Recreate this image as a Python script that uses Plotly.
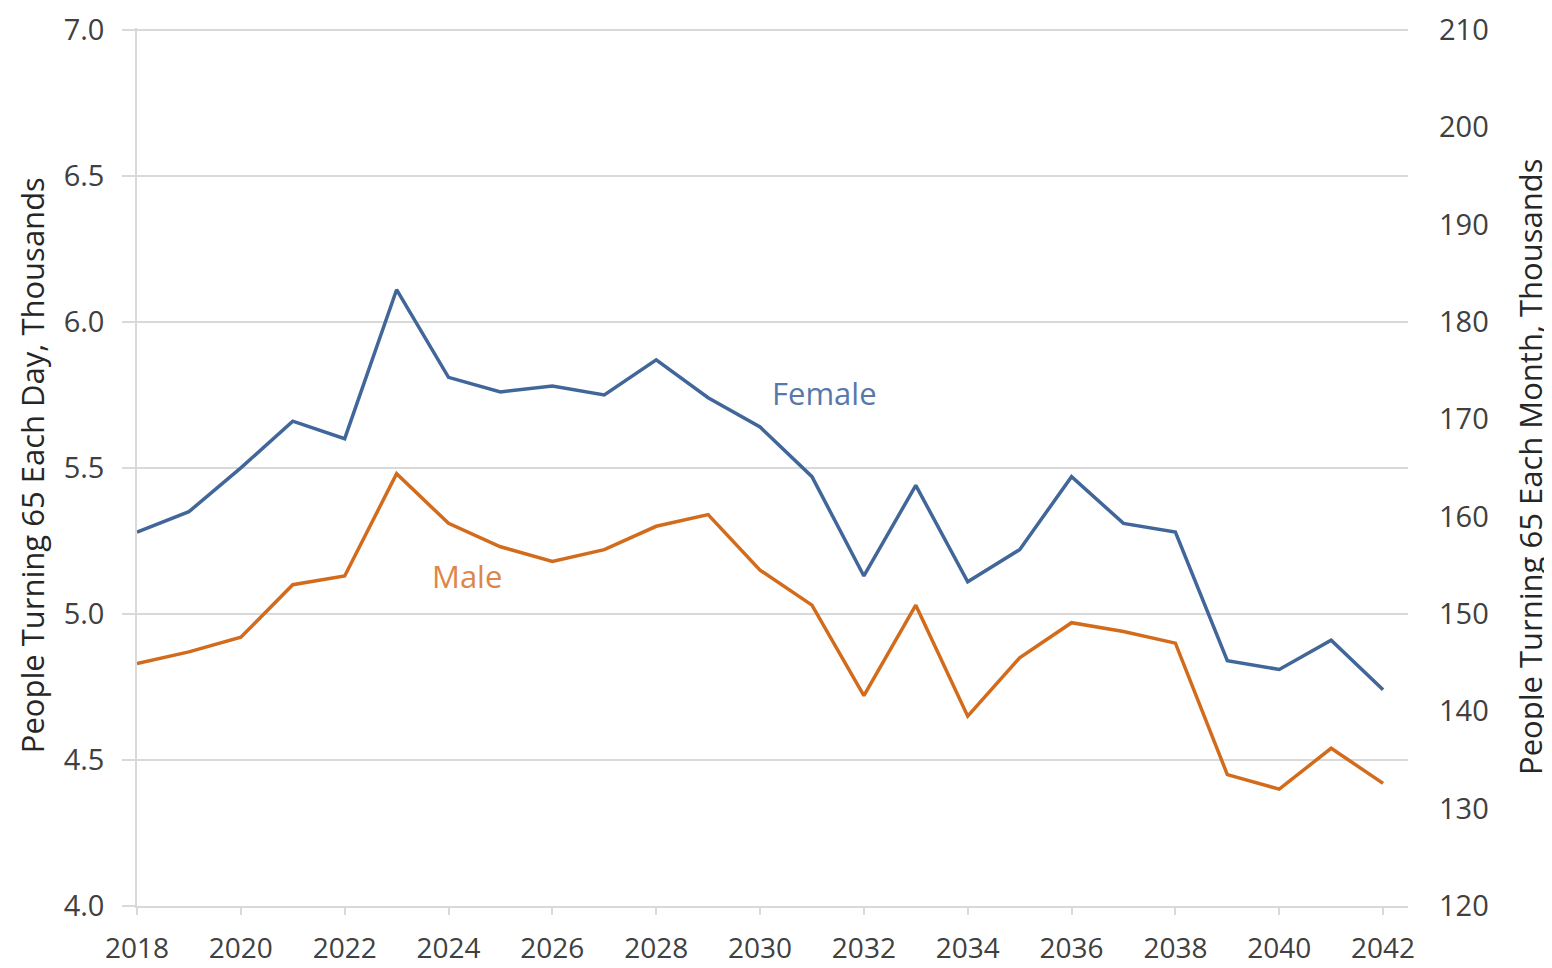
import plotly.graph_objects as go

years = list(range(2018, 2043))
female = [5.28, 5.35, 5.50, 5.66, 5.60, 6.11, 5.81, 5.76, 5.78, 5.75, 5.87, 5.74, 5.64,
          5.47, 5.13, 5.44, 5.11, 5.22, 5.47, 5.31, 5.28, 4.84, 4.81, 4.91, 4.74]
male = [4.83, 4.87, 4.92, 5.10, 5.13, 5.48, 5.31, 5.23, 5.18, 5.22, 5.30, 5.34, 5.15,
        5.03, 4.72, 5.03, 4.65, 4.85, 4.97, 4.94, 4.90, 4.45, 4.40, 4.54, 4.42]

left_title = "People Turning 65 Each Day, Thousands"
right_title = "People Turning 65 Each Month, Thousands"

FONT = "'Open Sans', Lato, sans-serif"
GRID = "#d9d9d9"
TXT = "#404040"

fig = go.Figure()
fig.add_trace(go.Scatter(x=years, y=female, mode="lines", name="Female",
                         line=dict(color="#41669a", width=3.5), showlegend=False))
fig.add_trace(go.Scatter(x=years, y=male, mode="lines", name="Male",
                         line=dict(color="#d26c1c", width=3.5), showlegend=False))
# empty trace so the secondary (monthly) axis is drawn
fig.add_trace(go.Scatter(x=[], y=[], yaxis="y2", showlegend=False, hoverinfo="skip"))

fig.add_annotation(x=2031.25, y=5.755, text="Female", showarrow=False,
                   font=dict(family=FONT, size=31, color="#5878ab"))
fig.add_annotation(x=2024.36, y=5.13, text="Male", showarrow=False,
                   font=dict(family=FONT, size=31, color="#dc8648"))

fig.add_annotation(xref="paper", yref="paper", x=-0.0826, y=0.502, text=left_title,
                   textangle=-90, showarrow=False, xanchor="center", yanchor="middle",
                   font=dict(family=FONT, size=31, color="#262626"))
fig.add_annotation(xref="paper", yref="paper", x=1.096, y=0.5, text=right_title,
                   textangle=-90, showarrow=False, xanchor="center", yanchor="middle",
                   font=dict(family=FONT, size=31, color="#262626"))

fig.update_layout(
    width=1544, height=960,
    margin=dict(l=129, r=144, t=20, b=62, autoexpand=False),
    paper_bgcolor="white", plot_bgcolor="white",
    font=dict(family=FONT, size=29, color=TXT),
    xaxis=dict(range=[2018, 2042.48], tick0=2018, dtick=2, showgrid=False,
               showline=True, linecolor=GRID, linewidth=1.5,
               ticks="outside", ticklen=7, tickcolor=GRID, tickwidth=1.5,
               ticklabelstandoff=10, zeroline=False, automargin=False,
               tickfont=dict(family=FONT, size=28, color=TXT)),
    yaxis=dict(range=[4.0, 7.006], tick0=4.0, dtick=0.5, tickformat=".1f",
               showgrid=True, gridcolor=GRID, gridwidth=1.5,
               showline=True, linecolor=GRID, linewidth=1.5,
               ticks="outside", ticklen=13, tickcolor=GRID, tickwidth=1.5,
               ticklabelstandoff=12, zeroline=False, automargin=False,
               ticklabeloverflow="allow",
               tickfont=dict(family=FONT, size=29, color=TXT)),
    yaxis2=dict(range=[120, 210.18], tick0=120, dtick=10, overlaying="y", side="right",
                showgrid=False, showline=False, zeroline=False, ticks="",
                ticklabelstandoff=30, automargin=False,
                ticklabeloverflow="allow",
                tickfont=dict(family=FONT, size=29, color=TXT)),
)

fig.write_html("out.html")
